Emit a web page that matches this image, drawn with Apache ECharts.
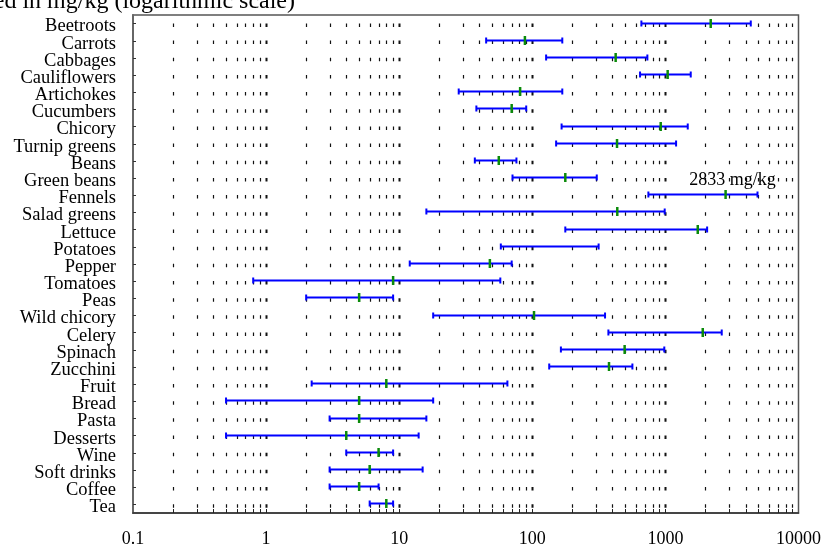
<!DOCTYPE html>
<html>
<head>
<meta charset="utf-8">
<script src="https://cdn.jsdelivr.net/npm/echarts@6/dist/echarts.min.js"></script>
<style>
  html, body { margin: 0; padding: 0; background: #fff; }
  #chart { width: 824px; height: 548px; }
</style>
</head>
<body>
<div id="chart"></div>
<script>
    // food categories, top to bottom
    const categories = [
        'Beetroots', 'Carrots', 'Cabbages', 'Cauliflowers', 'Artichokes', 'Cucumbers',
        'Chicory', 'Turnip greens', 'Beans', 'Green beans', 'Fennels', 'Salad greens',
        'Lettuce', 'Potatoes', 'Pepper', 'Tomatoes', 'Peas', 'Wild chicory', 'Celery',
        'Spinach', 'Zucchini', 'Fruit', 'Bread', 'Pasta', 'Desserts', 'Wine',
        'Soft drinks', 'Coffee', 'Tea'
    ];
    // mg/kg
    const lowValues = [660, 45, 127, 645, 28, 38, 166, 151, 37, 71, 745, 16, 177, 58, 12, 0.8, 2, 18, 373, 164, 134, 2.2, 0.5, 3, 0.5, 4, 3, 3, 6];
    const medianValues = [2190, 88, 423, 1040, 81, 70, 922, 433, 56, 177, 2833, 435, 1750, null, 48, 9, 5, 103, 1908, 494, 377, 8, 5, 5, 4, 7, 6, 5, 8];
    const highValues = [4380, 168, 732, 1550, 168, 90, 1472, 1203, 76, 305, 4920, 988, 2058, 315, 70, 57.5, 9, 352, 2650, 981, 565, 65, 18, 16, 14, 9, 15, 7, 9];
    // labelled medians
    const annotations = { 'Fennels': '2833 mg/kg' };

    const titleText = 'Nitrate content of vegetables and other foods, expressed in mg/kg (logarithmic scale)';
    const serif = '"Liberation Serif", "DejaVu Serif", serif';

    // grid positions at 2..9 of every decade (plus the inner decades)
    const gridTicks = [];
    [0.1, 1, 10, 100, 1000].forEach(function (d) {
        for (let k = 1; k <= 9; k++) {
            const v = parseFloat((k * d).toPrecision(6));
            if (v > 0.1) gridTicks.push([v, k === 1 ? 1 : 0]);
        }
    });

    const barData = categories.map(function (c, i) {
        return [i, lowValues[i], medianValues[i] == null ? NaN : medianValues[i], highValues[i]];
    });

    const chart = echarts.init(document.getElementById('chart'));
    chart.setOption({
        animation: false,
        backgroundColor: '#fff',
        graphic: [{
            type: 'text',
            x: 295, y: 2,
            style: {
                text: titleText,
                font: '24px ' + serif,
                fill: '#000',
                align: 'right',
                verticalAlign: 'middle'
            }
        }],
        grid: {
            left: 133, top: 15, width: 666, height: 501,
            show: true, borderColor: '#555', borderWidth: 1.5, backgroundColor: '#fff'
        },
        xAxis: {
            type: 'log',
            logBase: 10,
            min: 0.1,
            max: 10000,
            interval: 1,
            axisLine: { show: true, lineStyle: { color: '#333', width: 1.5 } },
            axisTick: { show: false },
            splitLine: { show: false },
            axisLabel: {
                fontFamily: serif, fontSize: 18, lineHeight: 18, color: '#000', margin: 17,
                showMinLabel: true, showMaxLabel: true,
                formatter: function (v) { return String(parseFloat(Number(v).toPrecision(6))); }
            }
        },
        yAxis: {
            type: 'category',
            inverse: true,
            data: categories,
            axisLine: { show: true, lineStyle: { color: '#666', width: 2 } },
            axisTick: { show: true, inside: true, length: 3, alignWithLabel: true, interval: 0, lineStyle: { color: '#333' } },
            axisLabel: {
                fontFamily: serif, fontSize: 18.5, color: '#000', margin: 17, interval: 0,
                verticalAlign: 'top', lineHeight: 6
            },
            splitLine: { show: false }
        },
        series: [
            {
                // dashed vertical grid + bottom minor ticks
                type: 'custom',
                z: 1,
                silent: true,
                data: gridTicks,
                encode: { x: 0 },
                renderItem: function (params, api) {
                    const cs = params.coordSys;
                    const x = Math.round(api.coord([api.value(0), 0])[0]) + 0.5;
                    const major = api.value(1) === 1;
                    const band = cs.height / categories.length;
                    return {
                        type: 'group',
                        children: [{
                            type: 'line',
                            shape: { x1: x, y1: cs.y, x2: x, y2: cs.y + cs.height },
                            style: {
                                stroke: '#111',
                                lineWidth: major ? 2 : 1.2,
                                lineDash: [3.5, band - 3.5],
                                lineDashOffset: band - (band / 2 - 0.2)
                            }
                        }, {
                            type: 'line',
                            shape: { x1: x, y1: cs.y + cs.height, x2: x, y2: cs.y + cs.height - 4 },
                            style: { stroke: '#222', lineWidth: 1 }
                        }]
                    };
                }
            },
            {
                // min-max range with median
                type: 'custom',
                z: 3,
                data: barData,
                encode: { x: [1, 2, 3], y: 0 },
                renderItem: function (params, api) {
                    const idx = api.value(0);
                    const lo = api.coord([api.value(1), idx]);
                    const hi = api.coord([api.value(3), idx]);
                    const y = Math.round(lo[1]) - 0.5;
                    const children = [{
                        type: 'line',
                        shape: { x1: lo[0], y1: y, x2: hi[0], y2: y },
                        style: { stroke: '#0000ff', lineWidth: 2 }
                    }, {
                        type: 'line',
                        shape: { x1: lo[0], y1: y - 3, x2: lo[0], y2: y + 3 },
                        style: { stroke: '#0000ff', lineWidth: 2 }
                    }, {
                        type: 'line',
                        shape: { x1: hi[0], y1: y - 3, x2: hi[0], y2: y + 3 },
                        style: { stroke: '#0000ff', lineWidth: 2 }
                    }];
                    const med = api.value(2);
                    if (!isNaN(med)) {
                        const m = api.coord([med, idx]);
                        children.push({
                            type: 'line',
                            shape: { x1: m[0], y1: y - 4.5, x2: m[0], y2: y + 4.5 },
                            style: { stroke: '#0a8a0a', lineWidth: 2.5 }
                        });
                        const note = annotations[categories[idx]];
                        if (note) {
                            children.push({
                                type: 'text',
                                x: m[0] + 7, y: y - 14.5,
                                style: {
                                    text: note, font: '18px ' + serif, fill: '#000',
                                    align: 'center', verticalAlign: 'middle'
                                }
                            });
                        }
                    }
                    return { type: 'group', children: children };
                }
            }
        ]
    });
</script>
</body>
</html>
